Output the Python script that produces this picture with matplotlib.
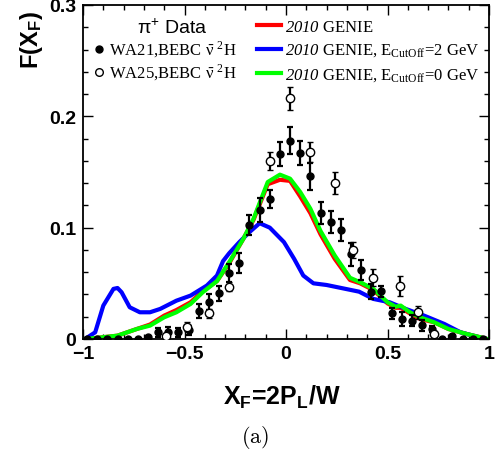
import matplotlib
matplotlib.use("Agg")
import matplotlib.pyplot as plt
from matplotlib.lines import Line2D
from matplotlib.ticker import MultipleLocator

plt.rcParams['font.family'] = ['Liberation Sans', 'DejaVu Sans']
plt.rcParams['mathtext.fontset'] = 'custom'
plt.rcParams['mathtext.rm'] = 'Liberation Sans'
plt.rcParams['mathtext.bf'] = 'Liberation Sans:bold'
plt.rcParams['mathtext.it'] = 'Liberation Sans:italic'
# serif pieces for the legend texts
plt.rcParams['mathtext.sf'] = 'Liberation Serif'
plt.rcParams['mathtext.cal'] = 'Liberation Serif:italic'

# WA21 data (filled points)
x_wa21 = [-0.98, -0.93, -0.88, -0.83, -0.78, -0.73, -0.68, -0.63, -0.58, -0.53,
          -0.48, -0.43, -0.38, -0.33, -0.28, -0.23, -0.18, -0.13, -0.08, -0.03,
          0.02, 0.07, 0.12, 0.17, 0.22, 0.27, 0.32, 0.37, 0.42, 0.47,
          0.52, 0.57, 0.62, 0.67, 0.72, 0.77, 0.82, 0.87, 0.92, 0.97]
y_wa21 = [0, 0, 0, 0, 0, 0, 0.002, 0.006, 0.0066, 0.006,
          0.008, 0.025, 0.033, 0.041, 0.059, 0.068, 0.102, 0.116, 0.126, 0.166,
          0.178, 0.167, 0.146, 0.113, 0.105, 0.098, 0.076, 0.062, 0.0425, 0.043,
          0.023, 0.018, 0.0165, 0.0125, 0.009, 0.0, 0.003, 0.0, 0.0, 0.0]
e_wa21 = [0, 0, 0, 0, 0, 0, 0.001, 0.004, 0.004, 0.004,
          0.004, 0.006, 0.007, 0.007, 0.008, 0.009, 0.009, 0.011, 0.008, 0.011,
          0.012, 0.011, 0.012, 0.010, 0.010, 0.010, 0.010, 0.009, 0.007, 0.005,
          0.005, 0.006, 0.005, 0.005, 0.003, 0, 0.001, 0, 0, 0]

# WA25 data (open points)
x_wa25 = [-0.59, -0.49, -0.38, -0.28, -0.08, 0.02, 0.12, 0.24, 0.33, 0.43, 0.56, 0.65, 0.73]
y_wa25 = [0.0025, 0.011, 0.023, 0.047, 0.160, 0.216, 0.168, 0.140, 0.080, 0.055, 0.048, 0.024, 0.0045]
e_wa25 = [0.002, 0.004, 0.004, 0.004, 0.008, 0.010, 0.009, 0.010, 0.007, 0.0075, 0.009, 0.006, 0.003]

# GENIE curves
x_gen = [-0.99, -0.93, -0.83, -0.735, -0.67, -0.60, -0.54, -0.47, -0.41, -0.34,
         -0.28, -0.21, -0.16, -0.09, -0.03, 0.02, 0.07, 0.12, 0.17, 0.24,
         0.315, 0.365, 0.43, 0.50, 0.54, 0.565, 0.61, 0.66, 0.73, 0.80,
         0.89, 0.97, 0.99]
y_red = [0.0, 0.001, 0.003, 0.009, 0.013, 0.021, 0.026, 0.033, 0.043, 0.052,
         0.068, 0.090, 0.107, 0.139, 0.143, 0.142, 0.128, 0.113, 0.094, 0.072,
         0.053, 0.050, 0.044, 0.032, 0.028, 0.028, 0.023, 0.018, 0.015, 0.009,
         0.0045, 0.001, 0.0]
y_green = [0.0, 0.001, 0.003, 0.009, 0.012, 0.0195, 0.024, 0.0315, 0.042, 0.052,
           0.069, 0.090, 0.108, 0.141, 0.1476, 0.144, 0.132, 0.117, 0.097, 0.075,
           0.055, 0.051, 0.045, 0.033, 0.029, 0.030, 0.024, 0.0195, 0.015, 0.009,
           0.0045, 0.001, 0.0]
x_blue = [-0.99, -0.94, -0.90, -0.85, -0.83, -0.81, -0.77, -0.72, -0.67, -0.62,
          -0.54, -0.47, -0.39, -0.34, -0.31, -0.28, -0.23, -0.18, -0.13, -0.08,
          -0.01, 0.04, 0.085, 0.135, 0.2, 0.28, 0.36, 0.43, 0.51, 0.59,
          0.68, 0.78, 0.86, 0.97, 0.99]
y_blue = [0.0, 0.006, 0.030, 0.045, 0.0458, 0.042, 0.0285, 0.024, 0.024, 0.027,
          0.0344, 0.039, 0.048, 0.057, 0.070, 0.077, 0.087, 0.096, 0.104, 0.100,
          0.087, 0.072, 0.057, 0.050, 0.0485, 0.0455, 0.0425, 0.036, 0.033, 0.027,
          0.021, 0.0135, 0.006, 0.0006, 0.0]

xticks = [-1, -0.5, 0, 0.5, 1]
xticklabels = ['\u22121', '\u22120.5', '0', '0.5', '1']
yticks = [0, 0.1, 0.2, 0.3]
yticklabels = ['0', '0.1', '0.2', '0.3']

fig = plt.figure(figsize=(4.95, 4.56), dpi=100)
ax = fig.add_axes([0.1677, 0.2544, 0.8202, 0.7325])

l_red, = ax.plot(x_gen, y_red, color='#ff0000', lw=3, solid_joinstyle='round')
l_blue, = ax.plot(x_blue, y_blue, color='#0000ff', lw=3, solid_joinstyle='round')
l_green, = ax.plot(x_gen, y_green, color='#00ff00', lw=3, solid_joinstyle='round')

ax.errorbar(x_wa21, y_wa21, yerr=e_wa21, fmt='o', color='black', ms=5,
            elinewidth=1.6, capsize=2, capthick=1.6, zorder=5)
ax.errorbar(x_wa25, y_wa25, yerr=e_wa25, fmt='o', color='black', mfc='white',
            ms=6, mew=1, elinewidth=1.6, capsize=2, capthick=1.6, zorder=5)

ax.set_xlim(-1, 1)
ax.set_ylim(0, 0.3)
ax.set_xticks(xticks, labels=xticklabels)
ax.set_yticks(yticks, labels=yticklabels)
ax.xaxis.set_minor_locator(MultipleLocator(0.1))
ax.yaxis.set_minor_locator(MultipleLocator(0.02))
ax.tick_params(which='both', direction='in', top=True, right=True, width=1)
ax.tick_params(which='major', length=7.5, labelsize=14)
ax.tick_params(which='minor', length=3.8)
ax.tick_params(axis='x', pad=4)
ax.tick_params(axis='y', pad=5)
for lab in ax.get_xticklabels() + ax.get_yticklabels():
    lab.set_fontweight('bold')
for sp in ax.spines.values():
    sp.set_linewidth(1.3)

ax.set_xlabel(r'X$_{\mathbf{F}}$=2P$_{\mathbf{L}}$/W', fontsize=18, fontweight='bold')
ax.xaxis.set_label_coords(0.49, -0.13)
ax.set_ylabel(r'F(X$_{\mathbf{F}}$)', fontsize=17, fontweight='bold', loc='top')
ax.yaxis.set_label_coords(-0.094, 0.985)

# data legend
fig.text(172 / 495, 1 - 28 / 456, '\u03c0$^{+}$ Data', fontsize=14,
         ha='center', va='center')
h_wa21 = Line2D([], [], marker='o', color='black', ls='none', ms=5)
h_wa25 = Line2D([], [], marker='o', color='black', mfc='white', ls='none', ms=5.5)
leg1 = ax.legend([h_wa21, h_wa25],
                 [r'WA21,BEBC $\bar{\mathsf{\nu}}$ $^{\mathsf{2}}$H',
                  r'WA25,BEBC $\bar{\mathsf{\nu}}$ $^{\mathsf{2}}$H'],
                 loc='upper left', bbox_to_anchor=(95 / 495, 1 - 40 / 456),
                 bbox_transform=fig.transFigure, frameon=False,
                 prop={'family': 'Liberation Serif', 'size': 12},
                 handlelength=0.5, handletextpad=0.35, labelspacing=0.15,
                 borderpad=0, borderaxespad=0)
ax.add_artist(leg1)

leg2 = ax.legend([l_red, l_blue, l_green],
                 [r'$\mathcal{2010}$ GENIE',
                  r'$\mathcal{2010}$ GENIE, E$_{\mathsf{CutOff}}$=2 GeV',
                  r'$\mathcal{2010}$ GENIE, E$_{\mathsf{CutOff}}$=0 GeV'],
                 loc='upper left', bbox_to_anchor=(257 / 495, 1 - 20 / 456),
                 bbox_transform=fig.transFigure, frameon=False,
                 prop={'family': 'Liberation Serif', 'size': 12},
                 handlelength=1.45, handletextpad=0.25, labelspacing=0.42,
                 borderpad=0, borderaxespad=0)

fig.text(255 / 495, 1 - 438 / 456, r'$\mathrm{(a)}$', math_fontfamily='cm',
         ha='center', va='center', fontsize=16)

fig.savefig('out.png', dpi=100)
